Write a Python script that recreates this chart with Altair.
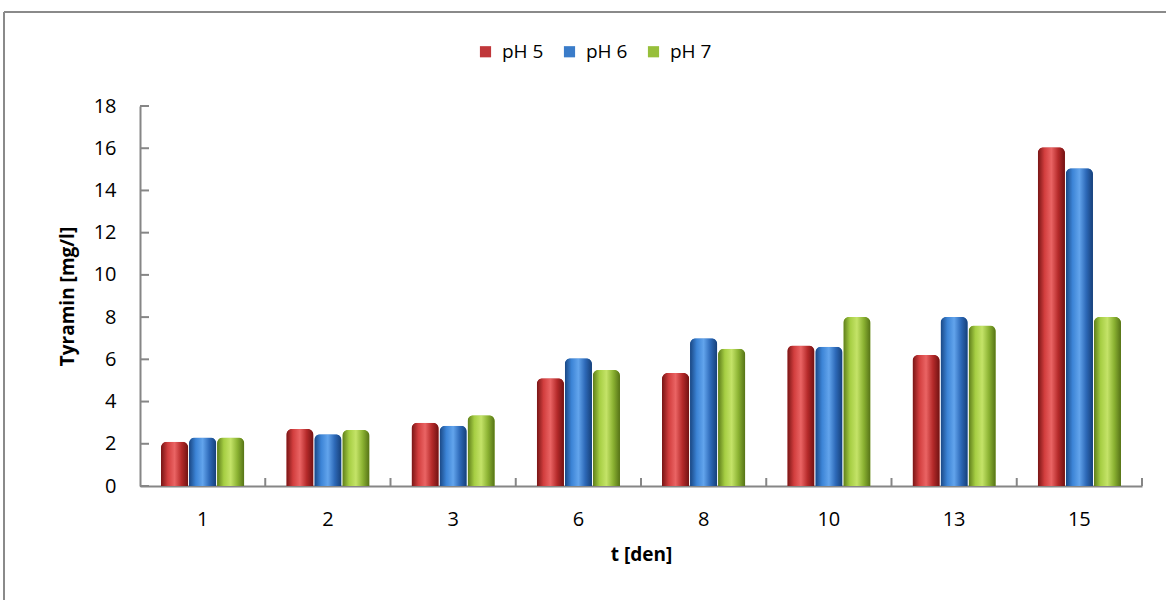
import altair as alt
import pandas as pd

days = ["1", "2", "3", "6", "8", "10", "13", "15"]
series = ["pH 5", "pH 6", "pH 7"]
ph5 = [2.1, 2.7, 3.0, 5.1, 5.35, 6.65, 6.2, 16.05]
ph6 = [2.3, 2.45, 2.85, 6.05, 7.0, 6.6, 8.0, 15.05]
ph7 = [2.3, 2.65, 3.35, 5.5, 6.5, 8.0, 7.6, 8.0]
y_ticks = [0, 2, 4, 6, 8, 10, 12, 14, 16, 18]

solid = ["#C0373A", "#3A7CC9", "#97BF3B"]
grads = [
    ["#761414", "#D23E3E", "#EA6464", "#B52A2A", "#701212"],
    ["#194682", "#3C84D6", "#62A4EC", "#2D69B8", "#163F78"],
    ["#5C7B1A", "#A6CE43", "#C4E368", "#8BB232", "#557216"],
]

rows = []
for s, vals in zip(series, [ph5, ph6, ph7]):
    for d, v in zip(days, vals):
        rows.append({"t": d, "series": s, "value": v})
df = pd.DataFrame(rows)

W, H = 1002, 380
FONT = "Open Sans"

xscale = alt.Scale(domain=days, paddingInner=0, paddingOuter=0)
xoscale = alt.Scale(domain=series, paddingInner=0.03, paddingOuter=0.75)
yscale = alt.Scale(domain=[0, 18], nice=False)

X = alt.X("t:N", scale=xscale, sort=None,
          axis=alt.Axis(title="t [den]", labelAngle=0, ticks=False, grid=False,
                        domainColor="#868686", domainWidth=2,
                        labelFontSize=20, labelPadding=23, labelColor="#000000",
                        titleFontSize=19, titleFontWeight="bold", titlePadding=16,
                        titleColor="#000000", labelFont=FONT, titleFont=FONT))
Y = alt.Y("value:Q", scale=yscale,
          axis=alt.Axis(title="Tyramin [mg/l]", values=y_ticks, grid=False, ticks=False,
                        domainColor="#868686", domainWidth=2,
                        labelFontSize=20, labelPadding=24, labelColor="#000000",
                        titleFontSize=19, titleFontWeight="bold", titlePadding=16,
                        titleColor="#000000", labelFont=FONT, titleFont=FONT))

base = alt.Chart(df).mark_bar(cornerRadiusTopLeft=6, cornerRadiusTopRight=6).encode(
    x=X,
    xOffset=alt.XOffset("series:N", scale=xoscale),
    y=Y,
    color=alt.Color("series:N", scale=alt.Scale(domain=series, range=solid),
                    legend=alt.Legend(title=None, orient="none", direction="horizontal",
                                      legendX=336, legendY=-64, symbolType="square",
                                      symbolSize=125, symbolStrokeWidth=0,
                                      labelFontSize=19, labelFont=FONT, labelColor="#000000",
                                      labelOffset=7, columnPadding=16, symbolOpacity=1)),
)

layers = [base]
for s, g in zip(series, grads):
    n = len(g)
    stops = [alt.GradientStop(offset=i / (n - 1), color=c) for i, c in enumerate(g)]
    layers.append(
        alt.Chart(df).transform_filter(alt.datum.series == s)
        .mark_bar(cornerRadiusTopLeft=6, cornerRadiusTopRight=6,
                  fill=alt.Gradient(gradient="linear", stops=stops, x1=0, x2=1, y1=0, y2=0))
        .encode(x=alt.X("t:N", scale=xscale, sort=None),
                xOffset=alt.XOffset("series:N", scale=xoscale),
                y=alt.Y("value:Q", scale=yscale))
    )

# inside tick marks on x axis at group boundaries
xt = pd.DataFrame({"t": days[1:]})
xticks = alt.Chart(xt).mark_rule(color="#868686", strokeWidth=2).encode(
    x=alt.X("t:N", scale=xscale, sort=None, bandPosition=0),
    y=alt.value(H - 8), y2=alt.value(H))
xt_end = pd.DataFrame({"t": days[-1:]})
xtick_end = alt.Chart(xt_end).mark_rule(color="#868686", strokeWidth=2).encode(
    x=alt.X("t:N", scale=xscale, sort=None, bandPosition=1),
    y=alt.value(H - 8), y2=alt.value(H))
# inside tick marks on y axis
yt = pd.DataFrame({"v": y_ticks})
yticks = alt.Chart(yt).mark_rule(color="#868686", strokeWidth=2).encode(
    y=alt.Y("v:Q", scale=yscale), x=alt.value(0), x2=alt.value(9))

# outer frame lines (top and left)
frame_df = pd.DataFrame({"a": [0]})
top_line = alt.Chart(frame_df).mark_rule(color="#8A8A8A", strokeWidth=2).encode(
    x=alt.value(-136), x2=alt.value(1026), y=alt.value(-94))
left_line = alt.Chart(frame_df).mark_rule(color="#8A8A8A", strokeWidth=2).encode(
    x=alt.value(-136), y=alt.value(-94), y2=alt.value(494))

chart = alt.layer(*layers, xticks, xtick_end, yticks, top_line, left_line).properties(
    width=W, height=H, padding={"left": 3, "top": 11, "right": 0, "bottom": 0},
    view=alt.ViewBackground(stroke="transparent", strokeWidth=0, strokeOpacity=0),
).configure(background="white").configure_view(strokeWidth=0, stroke="transparent")

chart.save("out.html", embed_options={"renderer": "svg", "actions": False})
